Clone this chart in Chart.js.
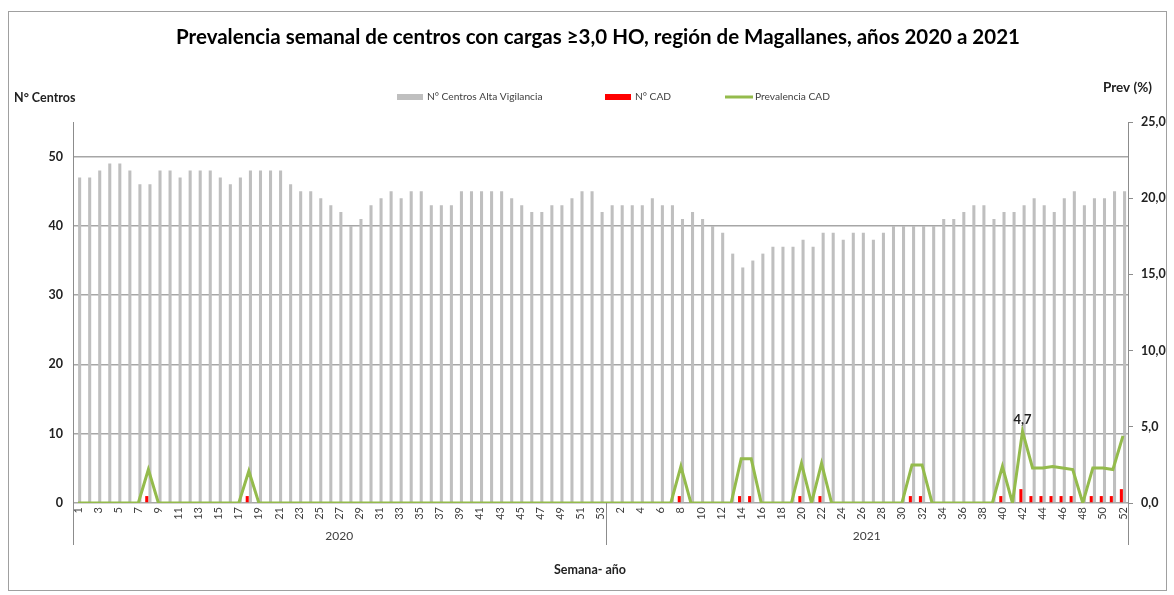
<!DOCTYPE html>
<html>
<head>
<meta charset="utf-8">
<script src="https://cdn.jsdelivr.net/npm/chart.js@4.4.0/dist/chart.umd.min.js"></script>
<style>
html, body { margin: 0; padding: 0; background: #fff; }
</style>
</head>
<body>
<canvas id="myChart" width="1174" height="595"></canvas>
<script>
// semanas (categorias)
var semanas2020 = Array.from({length: 53}, function (_, i) { return String(i + 1); });
var semanas2021 = Array.from({length: 52}, function (_, i) { return String(i + 1); });
var anios = ['2020', '2021'];

// N° Centros Alta Vigilancia
var centros2020 = [47,47,48,49,49,48,46,46,48,48, 47,48,48,48,47,46,47,48,48,48,
                   48,46,45,45,44,43,42,40,41,43, 44,45,44,45,45,43,43,43,45,45,
                   45,45,45,44,43,42,42,43,43,44, 45,45,42];
var centros2021 = [43,43,43,43,44,43,43,41,42,41, 40,39,36,34,35,36,37,37,37,38,
                   37,39,39,38,39,39,38,39,40,40, 40,40,40,41,41,42,43,43,41,42,
                   42,43,44,43,42,44,45,43,44,44, 45,45];

// N° CAD
var cad2020 = [0,0,0,0,0,0,0,1,0,0, 0,0,0,0,0,0,0,1,0,0,
               0,0,0,0,0,0,0,0,0,0, 0,0,0,0,0,0,0,0,0,0,
               0,0,0,0,0,0,0,0,0,0, 0,0,0];
var cad2021 = [0,0,0,0,0,0,0,1,0,0, 0,0,0,1,1,0,0,0,0,1,
               0,1,0,0,0,0,0,0,0,0, 1,1,0,0,0,0,0,0,0,1,
               0,2,1,1,1,1,1,0,1,1, 1,2];

// Prevalencia CAD (%)
var prev2020 = [0,0,0,0,0,0,0,2.2,0,0, 0,0,0,0,0,0,0,2.1,0,0,
                0,0,0,0,0,0,0,0,0,0, 0,0,0,0,0,0,0,0,0,0,
                0,0,0,0,0,0,0,0,0,0, 0,0,0];
var prev2021 = [0,0,0,0,0,0,0,2.4,0,0, 0,0,0,2.9,2.9,0,0,0,0,2.6,
                0,2.6,0,0,0,0,0,0,0,0, 2.5,2.5,0,0,0,0,0,0,0,2.4,
                0,4.7,2.3,2.3,2.4,2.3,2.2,0,2.3,2.3, 2.2,4.4];

var labels = semanas2020.concat(semanas2021);
var nombreFont = 'Lato, "Open Sans", sans-serif';

var decor = {
    id: 'decor',
    afterDraw: function (chart) {
        var c = chart.ctx, a = chart.chartArea, x = chart.scales.x, y1 = chart.scales.y1;
        c.save();

        // marco
        c.strokeStyle = '#a0a0a0';
        c.lineWidth = 1;
        c.strokeRect(8.5, 11.5, 1158, 579);

        // titulo
        c.fillStyle = '#000';
        c.font = 'bold 20.5px ' + nombreFont;
        c.textAlign = 'center';
        c.textBaseline = 'middle';
        c.fillText('Prevalencia semanal de centros con cargas \u22653,0 HO, regi\u00f3n de Magallanes, a\u00f1os 2020 a 2021', 598, 37);

        // titulos de ejes
        c.fillStyle = '#222';
        c.font = 'bold 12.5px ' + nombreFont;
        c.textAlign = 'left';
        c.fillText('N\u00b0 Centros', 14, 98);
        c.font = 'bold 13.5px ' + nombreFont;
        c.fillText('Prev (%)', 1103, 88);
        c.font = 'bold 12.5px ' + nombreFont;
        c.textAlign = 'center';
        c.fillText('Semana- a\u00f1o', 590, 570);

        // leyenda
        var ds = chart.data.datasets;
        var items = [[397, ds[0]], [605, ds[1]], [725, ds[2]]];
        c.font = '10.2px ' + nombreFont;
        c.textAlign = 'left';
        items.forEach(function (it) {
            var lx = it[0], d = it[1];
            if (d.type === 'line') {
                c.strokeStyle = d.borderColor;
                c.lineWidth = 3;
                c.beginPath();
                c.moveTo(lx, 97);
                c.lineTo(lx + 28, 97);
                c.stroke();
            } else {
                c.fillStyle = d.backgroundColor;
                c.fillRect(lx, 94, 26, 6);
            }
            c.fillStyle = '#404040';
            c.fillText(d.label, lx + 30, 97);
        });

        // separadores de año y lineas de eje extendidas
        var mid = (x.getPixelForValue(semanas2020.length - 1) + x.getPixelForValue(semanas2020.length)) / 2;
        c.strokeStyle = '#8c8c8c';
        c.lineWidth = 1;
        [a.left, mid, a.right].forEach(function (px) {
            c.beginPath();
            c.moveTo(Math.round(px) + 0.5, a.bottom);
            c.lineTo(Math.round(px) + 0.5, 545);
            c.stroke();
        });
        c.fillStyle = '#404040';
        c.font = '12px ' + nombreFont;
        c.textAlign = 'center';
        c.fillText(anios[0], (a.left + mid) / 2, 536);
        c.fillText(anios[1], (mid + a.right) / 2, 536);

        // etiqueta del maximo
        var iMax = semanas2020.length + 41;
        c.fillStyle = '#222';
        c.font = 'bold 13px ' + nombreFont;
        c.fillText('4,7', x.getPixelForValue(iMax), y1.getPixelForValue(prev2021[41]) - 12);

        c.restore();
    }
};

var ctx = document.getElementById('myChart').getContext('2d');
var myChart = new Chart(ctx, {
    type: 'bar',
    data: {
        labels: labels,
        datasets: [{
            label: 'N\u00b0 Centros Alta Vigilancia',
            data: centros2020.concat(centros2021),
            backgroundColor: '#bfbfbf',
            yAxisID: 'y',
            order: 2,
            categoryPercentage: 0.64,
            barPercentage: 0.95
        }, {
            label: 'N\u00b0 CAD',
            data: cad2020.concat(cad2021),
            backgroundColor: '#ff0000',
            yAxisID: 'y',
            order: 1,
            categoryPercentage: 0.64,
            barPercentage: 0.95
        }, {
            type: 'line',
            label: 'Prevalencia CAD',
            data: prev2020.concat(prev2021),
            borderColor: '#94bb4c',
            backgroundColor: '#94bb4c',
            borderWidth: 3,
            pointRadius: 0,
            tension: 0,
            yAxisID: 'y1',
            order: 0
        }]
    },
    options: {
        responsive: false,
        animation: false,
        layout: {
            padding: { left: 0, right: 0, top: 122, bottom: 0 }
        },
        plugins: {
            legend: { display: false },
            title: { display: false },
            tooltip: { enabled: false }
        },
        scales: {
            x: {
                offset: true,
                grid: { display: false, drawTicks: false },
                border: { display: false },
                ticks: {
                    autoSkip: false,
                    minRotation: 90,
                    maxRotation: 90,
                    padding: 4,
                    color: '#404040',
                    font: { family: nombreFont, size: 11 },
                    callback: function (v, i) { return i % 2 === 0 ? this.getLabelForValue(v) : ''; }
                },
                afterFit: function (s) { s.height = 92; }
            },
            y: {
                position: 'left',
                min: 0,
                max: 55,
                ticks: {
                    stepSize: 10,
                    padding: 10,
                    color: '#222',
                    font: { family: nombreFont, size: 12.5, weight: 'bold' }
                },
                afterBuildTicks: function (s) {
                    s.ticks = s.ticks.filter(function (t) { return t.value % 10 === 0; });
                },
                grid: { color: '#a6a6a6', lineWidth: 1.5, drawTicks: false },
                border: { display: true, color: '#8c8c8c', width: 1 },
                afterFit: function (s) { s.width = 73; }
            },
            y1: {
                position: 'right',
                min: 0,
                max: 25,
                ticks: {
                    stepSize: 5,
                    padding: 8,
                    color: '#222',
                    font: { family: nombreFont, size: 12.5, weight: 'bold' },
                    callback: function (v) { return v.toFixed(1).replace('.', ','); }
                },
                grid: { drawOnChartArea: false, drawTicks: true, tickLength: 5, color: '#8c8c8c' },
                border: { display: true, color: '#8c8c8c', width: 1 },
                afterFit: function (s) { s.width = 46; }
            }
        }
    },
    plugins: [decor]
});
</script>
</body>
</html>
